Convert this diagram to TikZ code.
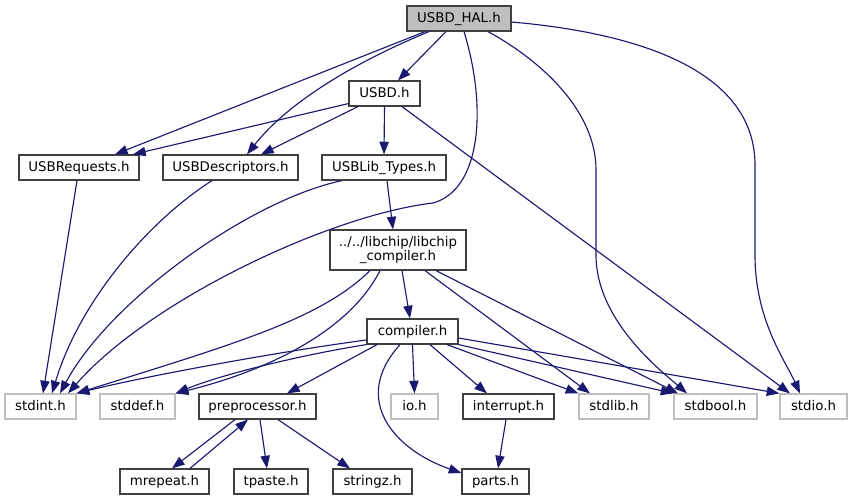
\documentclass[tikz,border=0pt]{standalone}
\usepackage{fontspec}
\setmainfont{DejaVu Sans}
\usetikzlibrary{arrows.meta,calc}
\definecolor{edgec}{HTML}{191970}
\definecolor{boxc}{HTML}{404040}
\definecolor{grayb}{HTML}{BFBFBF}
\definecolor{halfill}{HTML}{BFBFBF}
\begin{document}
\begin{tikzpicture}[x=0.75pt,y=-0.75pt,
  every node/.style={font=\fontsize{10pt}{11pt}\selectfont},
  boxbase/.style={draw=boxc,line width=0.9pt,inner sep=0pt,fill=white,minimum height=25*0.75pt},
  hdr/.style={boxbase,text height=7.25pt,text depth=2pt},
  sysbox/.style={hdr,draw=grayb},
  bw/.style={minimum width=#1*0.75pt},
  dep/.style={draw=edgec,line width=0.85pt,-{Triangle[length=9.5pt,width=7pt]}}
]
\useasboundingbox (0,0) rectangle (853,500);

% nodes
\node[hdr,fill=halfill,bw=104] (hal) at (459,18.5) {USBD\_HAL.h};
\node[hdr,bw=71] (usbd) at (384.5,93.5) {USBD.h};
\node[hdr,bw=120] (req) at (79,167.5) {USBRequests.h};
\node[hdr,bw=135] (desc) at (230.5,167.5) {USBDescriptors.h};
\node[hdr,bw=124] (lib) at (384,167.5) {USBLib\_Types.h};
\node[boxbase,bw=136,minimum height=40*0.75pt,align=center] (lcc) at (398,250) {../../libchip/libchip\\\_compiler.h};
\node[hdr,bw=91] (comp) at (412.5,331.5) {compiler.h};
\node[sysbox,bw=71] (sint) at (40.5,406.5) {stdint.h};
\node[sysbox,bw=75] (sdef) at (137.5,406.5) {stddef.h};
\node[hdr,bw=117] (pre) at (257.5,406.5) {preprocessor.h};
\node[sysbox,bw=47] (io) at (414.5,406.5) {io.h};
\node[hdr,bw=91] (intr) at (508.5,406.5) {interrupt.h};
\node[sysbox,bw=70] (slib) at (614,406.5) {stdlib.h};
\node[sysbox,bw=83] (sbool) at (715.5,406.5) {stdbool.h};
\node[sysbox,bw=67] (sio) at (813.5,406.5) {stdio.h};
\node[hdr,bw=89] (mrep) at (164.5,481.5) {mrepeat.h};
\node[hdr,bw=74] (tp) at (271,481.5) {tpaste.h};
\node[hdr,bw=79] (sz) at (372.5,481.5) {stringz.h};
\node[hdr,bw=67] (parts) at (495.5,481.5) {parts.h};

% USBD_HAL.h
\draw[dep] ($(hal.south)+(-34,0)$) -- ($(req.north)+(36,0)$);
\draw[dep] ($(hal.south)+(-30,0)$) .. controls (360,60) and (290,100) .. ($(desc.north)+(16.5,0)$);
\draw[dep] ($(hal.south)+(-13,0)$) -- ($(usbd.north)+(13.5,0)$);
\draw[dep] ($(hal.south)+(5,0)$) .. controls (488,110) and (480,190) .. (433,203) .. controls (330,215) and (150,300) .. ($(sint.north)+(27.5,0)$);
\draw[dep] ($(hal.south)+(29,0)$) .. controls (540,60) and (596,110) .. (596,170) -- (596,255) .. controls (596,320) and (660,370) .. ($(sbool.north)+(-28.5,0)$);
\draw[dep] ($(hal.east)+(0,3.5)$) .. controls (660,35) and (755,80) .. (755,165) -- (755,255) .. controls (755,320) and (785,360) .. ($(sio.north)+(-13.5,0)$);

% USBD.h
\draw[dep] ($(usbd.south west)+(0,-3)$) -- ($(req.north)+(54,0)$);
\draw[dep] ($(usbd.south)+(-26.5,0)$) -- ($(desc.north)+(30.5,0)$);
\draw[dep] (usbd.south) -- (lib.north);
\draw[dep] ($(usbd.south)+(17.5,0)$) -- ($(sio.north)+(-23.5,0)$);

% second row
\draw[dep] ($(req.south)+(-2,0)$) -- ($(sint.north)+(2.5,0)$);
\draw[dep] ($(desc.south)+(-18.5,0)$) .. controls (150,220) and (80,300) .. ($(sint.north)+(11.5,0)$);
\draw[dep] ($(lib.south)+(3,0)$) -- ($(lcc.north)+(-5,0)$);
\draw[dep] ($(lib.south)+(-42,0)$) .. controls (250,200) and (110,300) .. ($(sint.north)+(19.5,0)$);

% libchip_compiler.h
\draw[dep] ($(lcc.south)+(4,0)$) -- ($(comp.north)+(-2.5,0)$);
\draw[dep] ($(lcc.south)+(-28,0)$) .. controls (320,320) and (230,345) .. (sint.north east);
\draw[dep] ($(lcc.south)+(-18,0)$) .. controls (350,330) and (270,370) .. (sdef.north east);
\draw[dep] ($(lcc.south)+(27,0)$) -- ($(slib.north)+(-24,0)$);
\draw[dep] ($(lcc.south)+(38,0)$) -- ($(sbool.north)+(-37.5,0)$);

% compiler.h
\draw[dep] ($(comp.west)+(0,8.5)$) .. controls (290,350) and (150,375) .. (sint.north east);
\draw[dep] (comp.south west) .. controls (300,355) and (220,375) .. (sdef.north east);
\draw[dep] ($(comp.south)+(-35.5,0)$) -- ($(pre.north)+(29.5,0)$);
\draw[dep] ($(comp.south)+(-12.5,0)$) .. controls (350,400) and (395,450) .. ($(parts.west)+(0,-8.5)$);
\draw[dep] (comp.south) -- (io.north);
\draw[dep] ($(comp.south)+(17.5,0)$) -- ($(intr.north)+(-21.5,0)$);
\draw[dep] ($(comp.south)+(34.5,0)$) -- (slib.north west);
\draw[dep] (comp.south east) -- (sbool.north west);
\draw[dep] ($(comp.east)+(0,6.5)$) -- (sio.north west);

% preprocessor.h and interrupt.h
\draw[dep] ($(pre.south)+(-22.5,0)$) -- ($(mrep.north)+(7.5,0)$);
\draw[dep] ($(mrep.north)+(25.5,0)$) -- ($(pre.south)+(-9.5,0)$);
\draw[dep] ($(pre.south)+(2.5,0)$) -- ($(tp.north)+(-4,0)$);
\draw[dep] ($(pre.south)+(20.5,0)$) -- ($(sz.north)+(-22.5,0)$);
\draw[dep] ($(intr.south)+(-2.5,0)$) -- ($(parts.north)+(2.5,0)$);
\end{tikzpicture}
\end{document}
